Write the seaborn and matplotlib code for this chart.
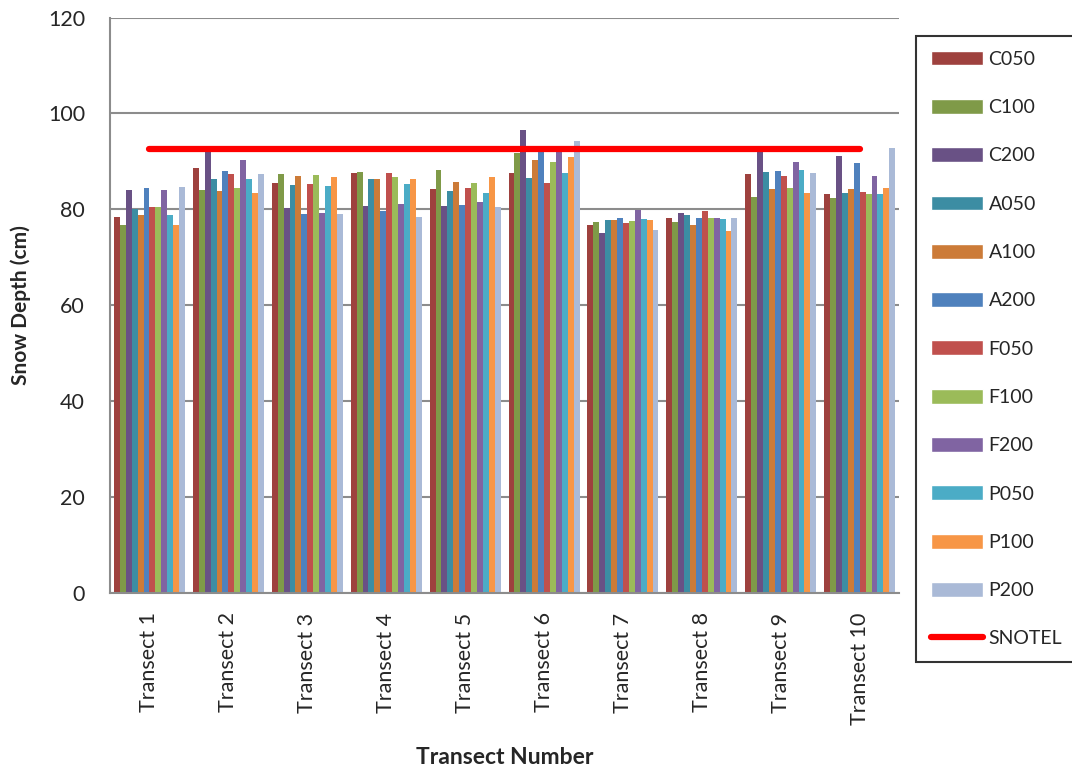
import numpy as np
import pandas as pd
import seaborn as sns
import matplotlib.pyplot as plt
from matplotlib.patches import Patch
from matplotlib.lines import Line2D

transects = ['Transect %d' % i for i in range(1, 11)]
sites = ['C050', 'C100', 'C200', 'A050', 'A100', 'A200',
         'F050', 'F100', 'F200', 'P050', 'P100', 'P200']
colors = ['#9E413E', '#7F9A48', '#695185', '#3C8DA3', '#CC7B38', '#4F81BD',
          '#C0504D', '#9BBB59', '#8064A2', '#4BACC6', '#F79646', '#AABAD7']

# one list per site, Transect 1..10
c050 = [78.5, 88.6, 85.6, 87.6, 84.2, 87.6, 76.8, 78.3, 87.3, 83.1]
c100 = [76.7, 84.0, 87.3, 87.8, 88.3, 91.7, 77.4, 77.4, 82.5, 82.3]
c200 = [84.0, 91.9, 80.3, 80.8, 80.6, 96.6, 75.1, 79.3, 92.2, 91.2]
a050 = [80.1, 86.4, 85.0, 86.3, 83.9, 86.5, 77.7, 78.9, 87.7, 83.5]
a100 = [78.9, 83.9, 86.9, 86.3, 85.7, 90.2, 77.7, 76.7, 84.2, 84.2]
a200 = [84.4, 88.1, 79.0, 79.6, 81.0, 92.2, 78.3, 78.1, 88.1, 89.6]
f050 = [80.5, 87.3, 85.3, 87.6, 84.4, 85.6, 77.1, 79.7, 86.9, 83.6]
f100 = [80.4, 84.4, 87.2, 86.8, 85.5, 89.9, 77.5, 78.1, 84.4, 83.3]
f200 = [84.0, 90.2, 79.3, 81.1, 81.5, 92.2, 79.9, 78.3, 89.9, 86.9]
p050 = [78.9, 86.3, 84.9, 85.3, 83.5, 87.6, 77.9, 77.9, 88.3, 83.3]
p100 = [76.7, 83.5, 86.7, 86.4, 86.8, 90.9, 77.7, 75.4, 83.5, 84.4]
p200 = [84.7, 87.3, 79.1, 78.5, 80.4, 94.2, 75.6, 78.2, 87.6, 92.8]
snotel = [92.5] * 10

series = [c050, c100, c200, a050, a100, a200, f050, f100, f200, p050, p100, p200]
rows = []
for site, vals in zip(sites, series):
    for t, v in zip(transects, vals):
        rows.append({'Transect': t, 'Site': site, 'Depth': v})
df = pd.DataFrame(rows)

sns.set_style('white')
plt.rcParams['font.family'] = ['Lato', 'DejaVu Sans']

fig = plt.figure(figsize=(10.72, 7.76), dpi=100)
ax = fig.add_axes([0.1026, 0.2358, 0.7362, 0.7416])

sns.barplot(data=df, x='Transect', y='Depth', hue='Site', hue_order=sites,
            order=transects, palette=colors, width=0.9, saturation=1,
            linewidth=0, ax=ax, legend=False, zorder=2)
ax.plot(range(len(transects)), snotel, color='#FF0000', lw=4.5,
        solid_capstyle='round', zorder=3)

grid_c = '#8C8C8C'
ax.set_ylim(0, 120)
ax.set_xlim(-0.5, len(transects) - 0.5)
ax.set_yticks(range(0, 121, 20))
ax.yaxis.grid(True, color=grid_c, lw=1.5, zorder=0)
ax.set_axisbelow(True)
for s in ['top', 'right']:
    ax.spines[s].set_visible(False)
for s in ['left', 'bottom']:
    ax.spines[s].set_color(grid_c)
    ax.spines[s].set_linewidth(1.5)

ax.set_xticks(np.arange(-0.5, len(transects)), minor=True)
ax.tick_params(axis='x', which='major', length=0, pad=14, labelsize=15.5,
               labelrotation=90)
ax.tick_params(axis='x', which='minor', length=8, width=1.5, color=grid_c,
               direction='out')
ax.tick_params(axis='y', length=8, width=1.5, color=grid_c, direction='out',
               labelsize=15.5, pad=10)

ax.set_xlabel('Transect Number', fontsize=16.5, fontweight='bold', labelpad=16)
ax.set_ylabel('Snow Depth (cm)', fontsize=15, fontweight='bold', labelpad=12)

handles = [Patch(facecolor=c, label=s) for s, c in zip(sites, colors)]
handles.append(Line2D([0], [0], color='#FF0000', lw=4.5,
                      solid_capstyle='round', label='SNOTEL'))
leg = fig.legend(handles=handles, loc='upper left',
                 bbox_to_anchor=(916 / 1072, 1 - 36 / 776),
                 fontsize=14, frameon=True, fancybox=False,
                 labelspacing=1.60, handlelength=2.68, handleheight=0.8,
                 handletextpad=0.3, borderpad=0.75, borderaxespad=0)
leg.get_frame().set_edgecolor('black')
leg.get_frame().set_linewidth(1.5)

fig.savefig('out.png', dpi=100)
